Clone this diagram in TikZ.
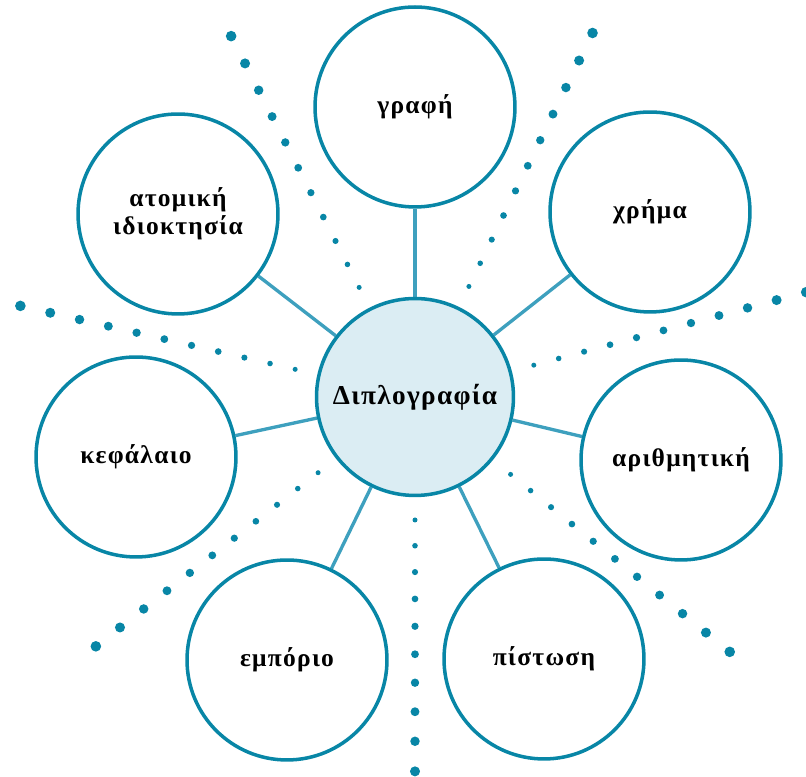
\documentclass[tikz,border=0pt]{standalone}
\usepackage{fontspec}
\setmainfont{Liberation Serif}
\newfontfamily\labelfont[LetterSpace=5]{Liberation Serif}
\usepackage{tikz}
\usetikzlibrary{backgrounds}

\definecolor{ringblue}{RGB}{8,134,166}
\definecolor{spokeblue}{RGB}{62,160,190}
\definecolor{hubfill}{RGB}{219,237,243}

\begin{document}
\begin{tikzpicture}[
    x=0.02cm, y=0.02cm,
    topic/.style={circle, draw=ringblue, line width=2pt, minimum size=4cm,
        inner sep=0pt, align=center, font=\labelfont\bfseries\fontsize{14.5}{16}\selectfont},
    hub/.style={topic, fill=hubfill, minimum size=3.94cm,
        font=\labelfont\bfseries\fontsize{15.5}{18}\selectfont},
    spoke/.style={draw=spokeblue, line width=1.9pt}
]
    \useasboundingbox (0,0) rectangle (806,777);

    \node[hub] (dbl) at (415,380) {Διπλογραφία};

    \node[topic] (grafi) at (415,670) {γραφή};
    \node[topic] (xrima) at (650,565) {χρήμα};
    \node[topic] (arith) at (681,317) {αριθμητική};
    \node[topic] (pist) at (544,118) {πίστωση};
    \node[topic] (empor) at (287,117) {εμπόριο};
    \node[topic] (kefal) at (136,320) {κεφάλαιο};
    \node[topic] (idiokt) at (178,563) {ατομική\\ιδιοκτησία};

    % spokes behind the rings
    \begin{pgfonlayer}{background}
        \foreach \t in {grafi, xrima, arith, pist, empor, kefal, idiokt}
            \draw[spoke] (dbl) -- (\t);
    \end{pgfonlayer}

    % dotted rays, dots growing outwards
    \foreach \ang in {15, 64, 117, 167, 218, 270, 321}
        \foreach \i in {0,...,10}
            \fill[ringblue] (dbl.center) ++(\ang:{123+25.5*\i+0.27*\i*\i}) circle ({2.5+0.28*\i});
\end{tikzpicture}
\end{document}
